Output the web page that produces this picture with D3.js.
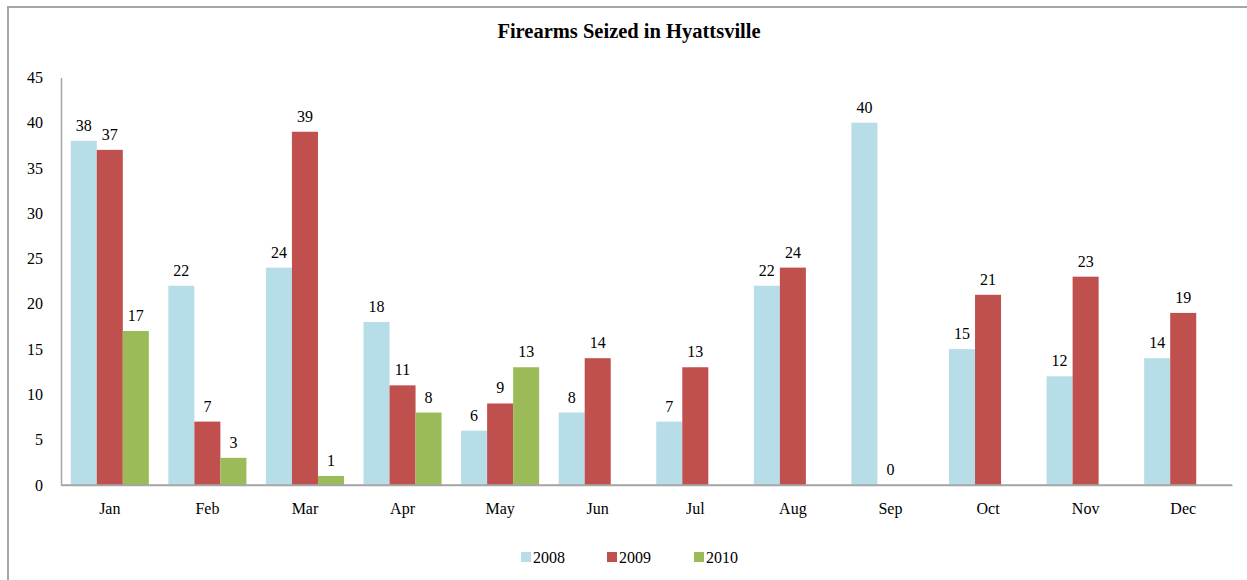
<!DOCTYPE html>
<html>
<head>
<meta charset="utf-8">
<script src="https://cdn.jsdelivr.net/npm/d3@7"></script>
<style>
  body { margin: 0; background: #fff; }
  svg { display: block; }
  text { font-family: "Liberation Serif", "Times New Roman", serif; fill: #000; }
</style>
</head>
<body>
<svg id="chart" width="1247" height="580"></svg>
<script>
// ==========================
// DATA
// ==========================
const months = ["Jan", "Feb", "Mar", "Apr", "May", "Jun", "Jul", "Aug", "Sep", "Oct", "Nov", "Dec"];
const years = ["2008", "2009", "2010"];
const seized2008 = [38, 22, 24, 18, 6, 8, 7, 22, 40, 15, 12, 14];
const seized2009 = [37, 7, 39, 11, 9, 14, 13, 24, 0, 21, 23, 19];
const seized2010 = [17, 3, 1, 8, 13, null, null, null, null, null, null, null];
const yTicks = [0, 5, 10, 15, 20, 25, 30, 35, 40, 45];
const colors = ["#b7dde8", "#c0504d", "#9bbb59"];

const series = [seized2008, seized2009, seized2010];

// ==========================
// SETUP
// ==========================
const svg = d3.select("#chart");
const plotLeft = 61, plotRight = 1232, plotTop = 77.4, plotBottom = 485;

// Chart border (clipped at right/bottom like the original)
svg.append("rect")
    .attr("x", 8).attr("y", 7)
    .attr("width", 1260).attr("height", 600)
    .attr("fill", "none")
    .attr("stroke", "#a6a6a6")
    .attr("stroke-width", 2);

svg.append("text")
    .attr("x", 629).attr("y", 38)
    .attr("text-anchor", "middle")
    .attr("font-size", 20.5)
    .attr("font-weight", "bold")
    .text("Firearms Seized in Hyattsville");

const x = d3.scaleBand().domain(months).range([plotLeft, plotRight]).paddingInner(0.2).paddingOuter(0.1);
const xs = d3.scaleBand().domain(years).range([0, x.bandwidth()]);
const y = d3.scaleLinear().domain([0, 45]).range([plotBottom, plotTop]);

// Y axis
const yAxis = svg.append("g")
    .attr("transform", `translate(${plotLeft},0)`)
    .call(d3.axisLeft(y).tickValues(yTicks).tickSize(0).tickPadding(18));
yAxis.select(".domain").attr("stroke", "#a6a6a6").attr("stroke-width", 1.5);
yAxis.selectAll("text").attr("font-size", 16).attr("font-family", "Liberation Serif").attr("fill", "#000");

// X axis
const xAxis = svg.append("g")
    .attr("transform", `translate(0,${plotBottom})`)
    .call(d3.axisBottom(d3.scaleBand().domain(months).range([plotLeft, plotRight])).tickSize(0).tickPadding(18));
xAxis.select(".domain").attr("stroke", "#a6a6a6").attr("stroke-width", 1.5);
xAxis.selectAll("text").attr("font-size", 16).attr("font-family", "Liberation Serif").attr("fill", "#000");

// Bars
const bars = svg.append("g");
series.forEach((vals, si) => {
    const pts = months.map((m, i) => ({ m, v: vals[i] })).filter(d => d.v !== null);
    bars.selectAll(".bar" + si)
        .data(pts)
        .enter()
        .append("rect")
        .attr("x", d => x(d.m) + xs(years[si]))
        .attr("y", d => y(d.v))
        .attr("width", xs.bandwidth())
        .attr("height", d => y(0) - y(d.v))
        .attr("fill", colors[si]);
    bars.selectAll(".lab" + si)
        .data(pts)
        .enter()
        .append("text")
        .attr("x", d => x(d.m) + xs(years[si]) + xs.bandwidth() / 2)
        .attr("y", d => y(d.v) - 10)
        .attr("text-anchor", "middle")
        .attr("font-size", 16)
        .text(d => d.v);
});

// Redraw baseline on top of bars
svg.append("line")
    .attr("x1", plotLeft).attr("x2", plotRight).attr("y1", plotBottom).attr("y2", plotBottom)
    .attr("stroke", "#a6a6a6").attr("stroke-width", 1.5);

// Legend
const legendX = [521, 607, 694];
const legend = svg.append("g");
years.forEach((yr, i) => {
    legend.append("rect")
        .attr("x", legendX[i]).attr("y", 552)
        .attr("width", 10).attr("height", 10)
        .attr("fill", colors[i]);
    legend.append("text")
        .attr("x", legendX[i] + 12).attr("y", 563)
        .attr("font-size", 16)
        .text(yr);
});
</script>
</body>
</html>
